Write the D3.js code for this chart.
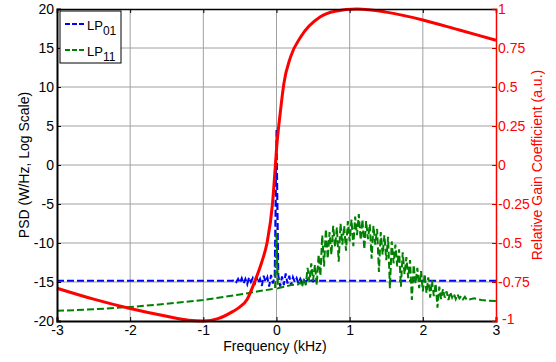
<!DOCTYPE html>
<html>
<head>
<meta charset="utf-8">
<script src="https://cdn.jsdelivr.net/npm/d3@7"></script>
<style>
  body { margin: 0; background: #fff; }
  text { font-family: "Liberation Sans", Arial, sans-serif; }
</style>
</head>
<body>
<svg id="chart"></svg>
<script>
// tick values
const xTicks = [-3, -2, -1, 0, 1, 2, 3];
const psdTicks = [-20, -15, -10, -5, 0, 5, 10, 15, 20];
const gainTicks = [-1, -0.75, -0.5, -0.25, 0, 0.25, 0.5, 0.75, 1];

// LP01 (blue): flat floor, noisy section near the carrier sampled every 0.025 kHz from -0.6
const lp01Floor = -14.85;
const lp01NoiseStart = -0.6;
const lp01Noise = [
  -14.85, -14.7, -15.0, -14.6, -15.1, -14.5, -15.2, -14.6, -15.3, -14.4,
  -15.0, -14.5, -15.4, -14.3, -15.1, -14.6, -15.5, -14.2, -15.0, -14.4,
  -15.6, -14.1, -15.2, -14.3, 4.5, -14.2, -15.6, -14.3, -15.4, -13.9,
  -15.2, -14.2, -15.5, -14.4, -15.0, -14.5, -15.2, -14.6, -15.1, -14.7,
  -15.0, -14.7, -15.0, -14.8, -14.95, -14.8, -14.85
];

// LP11 (green): smooth rise up to the carrier, spike at 0, noisy hump sampled every 0.025 kHz from 0.3
const lp11LeftFreq = [-3, -2.5, -2, -1.5, -1, -0.5, -0.25, -0.02, 0, 0.02, 0.1, 0.2];
const lp11LeftVal = [-18.7, -18.5, -18.2, -17.8, -17.3, -16.6, -16.2, -15.85, -8.7, -15.8, -15.6, -15.4];
const lp11NoiseStart = 0.3;
const lp11Noise = [
  -15.3, -15.0, -15.6, -14.6, -15.4, -13.2, -15.0, -12.6, -14.8, -12.8,
  -15.4, -11.5, -14.2, -9.0, -13.0, -8.2, -12.0, -8.6, -11.5, -7.8,
  -10.5, -8.0, -12.4, -7.5, -10.2, -7.8, -11.0, -7.2, -9.8, -7.0,
  -10.4, -6.6, -9.0, -6.3, -9.6, -7.0, -10.8, -7.2, -9.5, -7.6,
  -12.0, -7.8, -10.2, -8.2, -13.7, -8.6, -11.5, -9.0, -12.2, -9.2,
  -15.8, -9.8, -12.6, -10.2, -13.0, -10.8, -15.6, -11.2, -14.0, -11.8,
  -14.5, -12.2, -17.3, -12.8, -15.2, -13.2, -15.8, -13.6, -16.2, -14.0,
  -16.4, -14.4, -17.0, -14.8, -16.8, -15.2, -18.3, -15.6, -17.2, -15.9,
  -17.0, -16.2, -17.3, -16.3, -17.0, -16.5, -17.2, -16.6, -17.1, -16.8,
  -17.2, -16.9, -17.3
];
const lp11TailFreq = [2.7, 2.8, 2.9, 3];
const lp11TailVal = [-17.1, -17.3, -17.4, -17.45];

// relative gain coefficient (red, right axis)
const gainFreq = [-3, -2.5, -2, -1.5, -1.2, -1, -0.8, -0.6, -0.5, -0.4, -0.3, -0.2, -0.13, -0.055,
  -0.015, 0, 0.055, 0.1, 0.19, 0.33, 0.6, 0.8, 1.1, 1.5, 2, 2.5, 3];
const gainVal = [-0.79, -0.86, -0.92, -0.97, -0.995, -1, -0.985, -0.94, -0.91, -0.86, -0.75, -0.62, -0.5, -0.25,
  0, 0.1, 0.35, 0.52, 0.69, 0.82, 0.95, 0.985, 1, 0.98, 0.93, 0.865, 0.8];

const width = 556, height = 362;
const plotL = 57, plotR = 496, plotT = 9, plotB = 321;

const svg = d3.select("#chart")
  .attr("width", width)
  .attr("height", height);

const x = d3.scaleLinear().domain([-3, 3]).range([plotL, plotR]);
const yL = d3.scaleLinear().domain([-20, 20]).range([plotB, plotT]);
const yR = d3.scaleLinear().domain([-1, 1]).range([plotB, plotT]);

// build series
const lp01 = [[-3, lp01Floor]]
  .concat(lp01Noise.map((v, i) => [lp01NoiseStart + i * 0.025, v]))
  .concat([[3, lp01Floor]]);

const lp11 = lp11LeftFreq.map((f, i) => [f, lp11LeftVal[i]])
  .concat(lp11Noise.map((v, i) => [lp11NoiseStart + i * 0.025, v]))
  .concat(lp11TailFreq.map((f, i) => [f, lp11TailVal[i]]));

const gain = gainFreq.map((f, i) => [f, gainVal[i]]);

// grid
svg.append("g")
  .selectAll("line")
  .data(xTicks.slice(1, -1))
  .join("line")
  .attr("x1", d => x(d)).attr("x2", d => x(d))
  .attr("y1", plotT).attr("y2", plotB)
  .style("stroke", "#a0a0a0")
  .style("stroke-width", 1);

svg.append("g")
  .selectAll("line")
  .data(psdTicks.slice(1, -1))
  .join("line")
  .attr("x1", plotL).attr("x2", plotR)
  .attr("y1", d => yL(d)).attr("y2", d => yL(d))
  .style("stroke", "#a0a0a0")
  .style("stroke-width", 1);

// data lines
const psdLine = d3.line().x(d => x(d[0])).y(d => yL(d[1]));
const gainLine = d3.line().x(d => x(d[0])).y(d => yR(d[1])).curve(d3.curveMonotoneX);

svg.append("path")
  .datum(lp01)
  .attr("d", psdLine)
  .style("fill", "none")
  .style("stroke", "#0000ff")
  .style("stroke-width", 2)
  .style("stroke-dasharray", "7,3");

svg.append("path")
  .datum(lp11)
  .attr("d", psdLine)
  .style("fill", "none")
  .style("stroke", "#008000")
  .style("stroke-width", 2)
  .style("stroke-dasharray", "7,3");

svg.append("path")
  .datum(gain)
  .attr("d", gainLine)
  .style("fill", "none")
  .style("stroke", "#ff0000")
  .style("stroke-width", 3);

// axes (ticks point inward)
const fmt = d => String(d);

const xAxis = svg.append("g")
  .attr("transform", `translate(0,${plotB})`)
  .call(d3.axisBottom(x).tickValues(xTicks).tickFormat(fmt).tickSize(-4).tickPadding(4));

const xTop = svg.append("g")
  .attr("transform", `translate(0,${plotT})`)
  .call(d3.axisTop(x).tickValues(xTicks).tickFormat("").tickSize(-4));

const yAxisL = svg.append("g")
  .attr("transform", `translate(${plotL},0)`)
  .call(d3.axisLeft(yL).tickValues(psdTicks).tickFormat(fmt).tickSize(-4).tickPadding(3));

const yAxisR = svg.append("g")
  .attr("transform", `translate(${plotR},0)`)
  .call(d3.axisRight(yR).tickValues(gainTicks).tickFormat(fmt).tickSize(-4).tickPadding(2));

[xAxis, xTop, yAxisL].forEach(g => {
  g.select(".domain").style("stroke", "#000").style("stroke-width", 2);
  g.selectAll(".tick line").style("stroke", "#000");
  g.selectAll("text").style("font-size", "14px").style("fill", "#000");
});
xTop.select(".domain").style("stroke-width", 1.5);

yAxisR.select(".domain").style("stroke", "#ff0000").style("stroke-width", 1.5);
yAxisR.selectAll(".tick line").style("stroke", "#c00000");
yAxisR.selectAll("text").style("font-size", "14px").style("fill", "#ff0000");
// keep the bottom right label clear of the last x tick label
yAxisR.selectAll(".tick text").filter(d => d === -1).attr("dx", 4).attr("dy", "0.2em");

// axis titles
svg.append("text")
  .attr("x", 275)
  .attr("y", 351)
  .attr("text-anchor", "middle")
  .style("font-size", "14px")
  .text("Frequency (kHz)");

svg.append("text")
  .attr("transform", `translate(29,${(plotT + plotB) / 2}) rotate(-90)`)
  .attr("text-anchor", "middle")
  .style("font-size", "14px")
  .text("PSD (W/Hz, Log Scale)");

svg.append("text")
  .attr("transform", `translate(542,${(plotT + plotB) / 2}) rotate(-90)`)
  .attr("text-anchor", "middle")
  .style("font-size", "14px")
  .style("fill", "#ff0000")
  .text("Relative Gain Coefficient (a.u.)");

// legend
const legend = svg.append("g").attr("transform", "translate(60,11)");

legend.append("rect")
  .attr("width", 61).attr("height", 52)
  .style("fill", "#fff")
  .style("stroke", "#000")
  .style("stroke-width", 1);

const entries = [
  { color: "#0000ff", sub: "01", y: 13 },
  { color: "#008000", sub: "11", y: 39 }
];

entries.forEach(e => {
  legend.append("line")
    .attr("x1", 5).attr("x2", 26)
    .attr("y1", e.y).attr("y2", e.y)
    .style("stroke", e.color)
    .style("stroke-width", 2)
    .style("stroke-dasharray", "5,2");
  const t = legend.append("text")
    .attr("x", 27)
    .attr("y", e.y + 6)
    .style("font-size", "13px");
  t.append("tspan").text("LP");
  t.append("tspan").attr("dy", 5).style("font-size", "12px").text(e.sub);
});
</script>
</body>
</html>
